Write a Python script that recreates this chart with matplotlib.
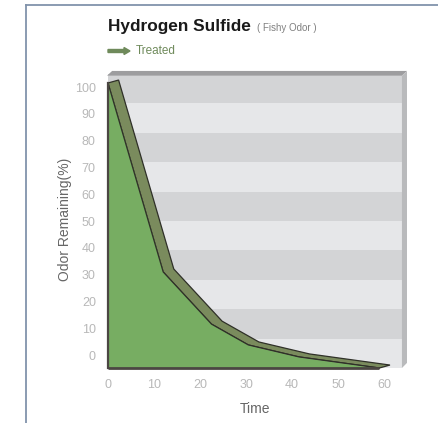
import numpy as np
import matplotlib
matplotlib.use("Agg")
import matplotlib.pyplot as plt
from matplotlib.patches import Polygon, FancyArrow
from matplotlib.lines import Line2D

plt.rcParams['font.family'] = ['Liberation Sans', 'DejaVu Sans']

# data (front face of the pseudo-3D area)
time = [0, 12, 22.5, 30.5, 41.5, 59]
odor = [100, 33.7, 15.4, 8.1, 3.9, 0]
x_ticks = [0, 10, 20, 30, 40, 50, 60]
y_ticks = [0, 10, 20, 30, 40, 50, 60, 70, 80, 90, 100]

# pseudo-3D look
FLOOR = -4.85        # front floor sits below the 0 label
SCALE = 1.0635       # front face drawn a bit taller than the label scale
DEPTH_T, DEPTH_V = 2.3, 1.1
WALL_T = 63.9
WALL_TOP = 104.85

fig = plt.figure(figsize=(4.39, 4.23), dpi=100)
ax = fig.add_axes([100/439, 51/423, 310/439, 306/423])
ax.set_xlim(-1.739, 65.652)
ax.set_ylim(-6.343, 107.84)
for s in ax.spines.values():
    s.set_visible(False)

# back wall stripes
edges = np.linspace(FLOOR, WALL_TOP, 11)
for i in range(10):
    c = '#d3d4d6' if (9 - i) % 2 == 0 else '#e6e7e9'
    ax.fill_between([0, WALL_T], edges[i], edges[i+1], color=c, lw=0, zorder=1)

# top edge and right side of the wall
ax.add_patch(Polygon([(-0.2, WALL_TOP - 0.6), (0.9, 106.0), (WALL_T + 1.1, 106.0),
                      (WALL_T, WALL_TOP - 0.6)], closed=True, color='#9d9d9f', lw=0, zorder=2))
ax.add_patch(Polygon([(WALL_T, WALL_TOP - 0.6), (WALL_T + 1.1, 106.0), (WALL_T + 1.1, FLOOR + 1.9),
                      (WALL_T, FLOOR)], closed=True, color='#b9babc', lw=0, zorder=2))

t = np.array(time, dtype=float)
front = FLOOR + np.array(odor) * SCALE
back_t = t + DEPTH_T
back_v = front + DEPTH_V

# top ribbon of the area
rib = list(zip(t, front)) + list(zip(back_t[::-1], back_v[::-1]))
ax.add_patch(Polygon(rib, closed=True, facecolor='#7a8b5d', edgecolor='#2f3028',
                     lw=0.9, zorder=3))

# front face
ax.fill_between(t, FLOOR, front, color='#77ad62', lw=0, zorder=4)
ax.plot(t, front, color='#2f3028', lw=0.9, zorder=5)
ax.plot([t[0], t[0]], [FLOOR, front[0]], color='#4b4642', lw=1.6, zorder=5)
ax.plot([t[0], t[-1]], [FLOOR, FLOOR], color='#4b4642', lw=2, zorder=5,
        solid_capstyle='butt')

ax.set_xticks(x_ticks)
ax.set_yticks(y_ticks)
ax.tick_params(length=0, labelsize=9, colors='#b8b8b8')
ax.tick_params(axis='y', pad=3)
ax.tick_params(axis='x', pad=5)
ax.set_ylabel('Odor Remaining(%)', fontsize=10, color='#666666', labelpad=2)
ax.set_xlabel('Time', fontsize=10, color='#666666', labelpad=8)

# titles and legend
fig.text(108/439, 1 - 31/423, 'Hydrogen Sulfide', fontsize=12.4, fontweight='bold',
         color='#1a1a1a', ha='left', va='baseline')
fig.text(257/439, 1 - 31/423, '( Fishy Odor )', fontsize=7, color='#808080',
         ha='left', va='baseline')
fig.add_artist(FancyArrow(108/439, 1 - 51/423, 16/439, 0,
               width=3/423, head_width=7/423, head_length=6/439,
               length_includes_head=False, color='#6f8a5b', transform=fig.transFigure))
fig.text(136/439, 1 - 51/423, 'Treated', fontsize=8.5, color='#6f8a5b',
         ha='left', va='center')

# frame lines
fig.add_artist(Line2D([26/439, 26/439], [0, 1 - 5/423], color='#8193ab', lw=1.3,
                      transform=fig.transFigure))
fig.add_artist(Line2D([26/439, 1], [1 - 5/423, 1 - 5/423], color='#8193ab', lw=1.3,
                      transform=fig.transFigure))

fig.savefig('out.png', dpi=100)
